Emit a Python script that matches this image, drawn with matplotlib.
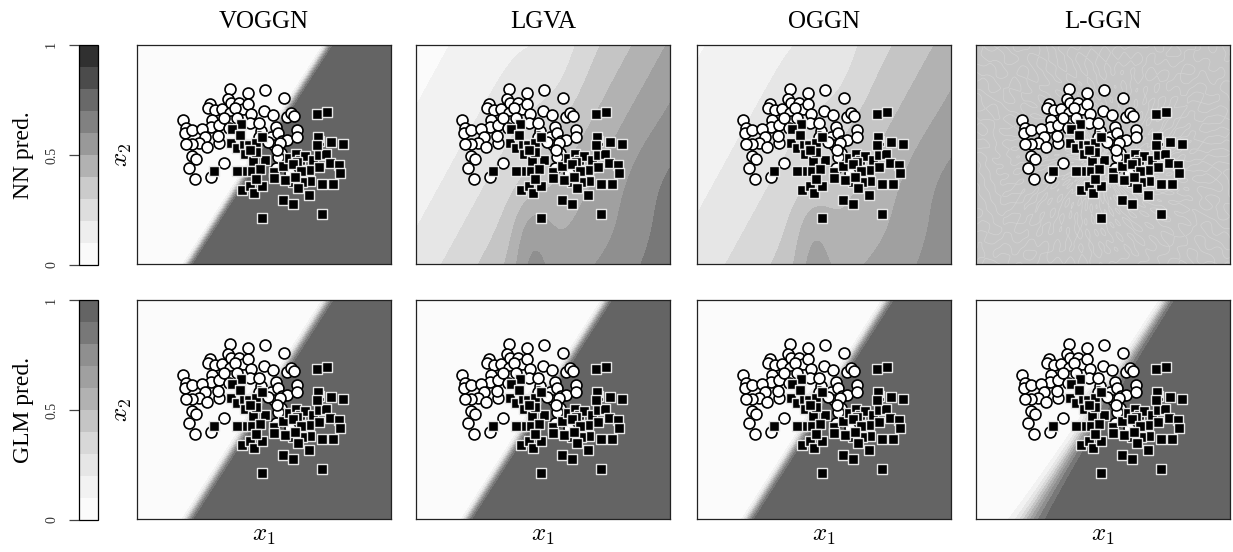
import numpy as np
import matplotlib
matplotlib.use('Agg')
import matplotlib.pyplot as plt
from matplotlib.colors import ListedColormap, BoundaryNorm
from matplotlib.cm import ScalarMappable

plt.rcParams['font.family'] = ['Liberation Serif', 'DejaVu Serif']
plt.rcParams['mathtext.fontset'] = 'cm'

# labels
methods = ['VOGGN', 'LGVA', 'OGGN', 'L-GGN']
row_labels = ['NN pred.', 'GLM pred.']
levels = np.linspace(0, 1, 11)
cbar_ticks = [0, 0.5, 1]
cbar_ticklabels = ['0', '0.5', '1']

# class 0 (circles)
c0_x = [-1.02, -0.48, 0.04, 0.62, -1.62, -1.68, -1.45, -1.25, -1.08, -0.97, -0.75, -0.62,
        -0.47, 0.00, 0.28, 0.72, 0.82, 0.92, -1.02, -0.37, -0.40, -0.97, -1.55, -1.58,
        -1.35, -2.42, -2.32, -2.35, -2.15, -1.85, -1.75, -1.93, -2.15, -2.32, -1.70, -1.35,
        -1.37, -1.05, -0.08, 0.22, 0.38, 0.43, 0.55, 0.72, 1.00, 1.02, 0.32, 0.50,
        0.52, 0.45, -2.15, -2.02, -2.24, -2.05, -1.58, -1.20, 0.80, 0.37, -0.85, -1.20,
        -0.80, -0.15, 0.15, 0.40, -0.15]
c0_y = [2.22, 2.12, 2.20, 1.95, 1.78, 1.65, 1.60, 1.62, 1.92, 1.80, 1.82, 1.62,
        1.78, 1.58, 1.46, 1.38, 1.52, 1.42, 1.52, 1.47, 1.22, 1.28, 1.30, 1.08,
        1.15, 1.30, 1.05, 0.90, 1.00, 1.03, 0.80, 0.60, 0.58, 0.58, 0.50, 0.60,
        0.82, 1.05, 0.98, 0.80, 1.10, 0.90, 0.68, 0.70, 1.00, 0.80, 0.55, 0.60,
        0.32, 0.18, 0.22, 0.13, -0.15, -0.46, -0.40, 0.02, -0.30, -0.15, 1.65, 1.35,
        1.35, 0.80, 0.65, 0.40, 1.22]

# class 1 (squares)
c1_x = [1.62, 1.91, -0.68, -0.95, -0.98, -0.80, -0.58, -0.43, -0.22, -0.56, -0.32, 0.05,
        -0.12, -0.40, -0.65, -0.80, -1.50, 0.32, 0.33, 0.60, 0.76, 0.98, 1.10, 1.25,
        1.50, 1.68, 2.02, 2.40, 1.68, 1.88, 2.00, 2.28, 2.30, 1.68, 1.38, 1.40,
        1.15, 0.90, 1.05, 1.38, 1.75, 2.10, 1.76, -0.04, 0.60, 0.88, -0.65, -0.42,
        -0.30, -0.06, -0.23, 0.65, -0.22, 1.00, -0.42, -0.70, -0.05, 0.90, 1.12, 0.95,
        1.65, 1.62]
c1_y = [1.47, 1.55, 1.17, 1.02, 0.62, 0.45, 0.58, 0.55, 0.60, 0.28, 0.07, 0.10,
        -0.18, -0.22, -0.22, -0.22, -0.22, -0.25, -0.45, -0.08, 0.17, 0.28, 0.10, 0.22,
        0.10, 0.67, 0.65, 0.58, 0.25, 0.28, 0.00, -0.05, -0.28, -0.12, -0.20, -0.52,
        -0.55, -0.55, -0.75, -0.95, -0.62, -0.62, -1.52, -1.65, -1.10, -1.22, -0.80, -0.68,
        -0.90, -0.68, -0.48, -0.50, 0.35, 0.05, 0.40, 0.85, 0.78, -0.02, -0.22, -0.40,
        0.80, 0.55]

xlim = (-3.8, 3.83)
ylim = (-3.02, 3.55)


def blend(alpha):
    mids = (levels[:-1] + levels[1:]) / 2
    g = plt.get_cmap('Greys')(mids)[:, :3]
    return [tuple(1 - alpha * (1 - c)) for c in g]


panel_colors = blend(0.645)
nn_bar_colors = blend(0.86)


def sig(z):
    return 1 / (1 + np.exp(-z))


xx, yy = np.meshgrid(np.linspace(*xlim, 400), np.linspace(*ylim, 340))
line = xx - 0.64 * yy + 0.33
blob_dn = np.exp(-((xx - 0.6) ** 2 + (yy + 0.3) ** 2) / 0.2)
blob_up = np.exp(-((xx + 0.4) ** 2 + (yy - 0.7) ** 2) / 0.2)

glm = sig(12 * line - 8 * blob_dn + 5 * blob_up)
voggn_nn = sig(14 * line - 8 * blob_dn + 5 * blob_up)

smooth = (0.4 * xx - 0.22 * yy - 0.3
          + 0.7 * np.exp(-(xx + 0.3) ** 2 / 0.35) * sig(-(yy + 1.3) * 2.5)
          - 0.3 * np.exp(-(xx - 0.3) ** 2 / 0.8) * sig((yy - 1.8) * 2)
          + 0.2 * sig((xx - 2.9) * 3) * sig(-(yy - 0.4) * 2)
          - 0.3 * sig((xx - 1.5) * 2) * sig(-(yy + 1.5) * 2))
lgva_nn = sig(smooth)
oggn_nn = sig(0.8 * smooth - 0.2)

theta = np.arctan2(yy, xx)
rr = np.hypot(xx, yy)
texture = (np.sin(31 * theta + 4 * np.sin(1.7 * rr)) * np.cos(23 * theta - 5 * rr)
           + 0.6 * np.sin(7 * xx + 11 * yy) * np.cos(9 * xx - 5 * yy))
lggn_nn = 0.45 + 0.01 * texture

k_fan = 4.0 + 5.5 * (yy - ylim[0]) / (ylim[1] - ylim[0])
lggn_glm = sig(k_fan * line - 4 * blob_dn + 3 * blob_up)

fields = [[voggn_nn, lgva_nn, oggn_nn, lggn_nn],
          [glm, sig(12.5 * line - 8 * blob_dn + 5 * blob_up),
           sig(11.5 * line - 8 * blob_dn + 5 * blob_up), lggn_glm]]

W, H = 1233, 552
fig = plt.figure(figsize=(W / 100, H / 100), dpi=100)

col_left = [137, 416, 697, 976]
row_top = [45, 300]
pw, ph = 254, 219

for r in range(2):
    for c in range(4):
        ax = fig.add_axes([col_left[c] / W, (H - row_top[r] - ph) / H, pw / W, ph / H])
        ax.contourf(xx, yy, fields[r][c], levels=levels, colors=panel_colors)
        if r == 0 and c == 3:
            # faint seams of the noisy L-GGN surface
            ax.contour(xx, yy, texture, levels=[0.0], colors='#d3d3d3', linewidths=0.5)
        ax.scatter(c0_x, c0_y, s=62, c='white', edgecolors='black', linewidths=1.2, zorder=3)
        ax.scatter(c1_x, c1_y, s=44, marker='s', c='black', edgecolors='#e6e6e6',
                   linewidths=1.0, zorder=4)
        ax.set_xlim(xlim)
        ax.set_ylim(ylim)
        ax.set_xticks([])
        ax.set_yticks([])
        for sp in ax.spines.values():
            sp.set_color('#222222')
            sp.set_linewidth(0.9)
        if r == 0:
            ax.set_title(methods[c], fontsize=18, pad=12)
        if r == 1:
            ax.set_xlabel('$x_1$', fontsize=18, labelpad=4)
        if c == 0:
            ax.set_ylabel('$x_2$', fontsize=18, labelpad=2)

    cax = fig.add_axes([79 / W, (H - row_top[r] - 220) / H, 19 / W, 220 / H])
    colors = nn_bar_colors if r == 0 else panel_colors
    sm = ScalarMappable(norm=BoundaryNorm(levels, len(colors)), cmap=ListedColormap(colors))
    cb = fig.colorbar(sm, cax=cax, ticks=cbar_ticks)
    cb.outline.set_linewidth(0.9)
    cax.minorticks_off()
    cax.yaxis.set_ticks_position('left')
    cax.yaxis.set_label_position('left')
    cax.set_yticklabels(cbar_ticklabels, rotation=90, va='center', fontsize=10, color='#333333')
    cax.tick_params(length=7, width=0.9, pad=8, color='#444444')
    cax.set_ylabel(row_labels[r], fontsize=17, labelpad=8)

fig.savefig('out.png', dpi=100)
